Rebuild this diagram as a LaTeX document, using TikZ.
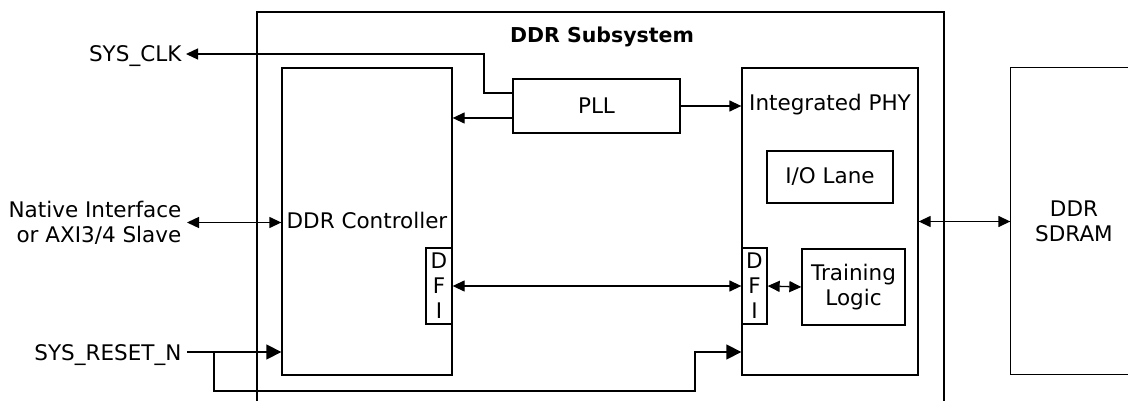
\documentclass[tikz,border=0pt]{standalone}
\usepackage{fontspec}
\setmainfont{DejaVu Sans}
\usetikzlibrary{arrows.meta}
\begin{document}
\begin{tikzpicture}[x=1pt,y=-1pt,
  line width=1.3pt,
  blk/.style={draw, inner sep=0pt, line width=1.3pt},
  txt/.style={font=\fontsize{21.5}{25}\selectfont, inner sep=0pt, align=center},
  lbl/.style={font=\fontsize{21.5}{25}\selectfont, inner sep=0pt},
  arr/.style={-{Triangle[length=12pt,width=11pt]}},
  darr/.style={{Triangle[length=12pt,width=11pt]}-{Triangle[length=12pt,width=11pt]}},
  bigarr/.style={-{Triangle[length=15pt,width=15pt]}},
]
\useasboundingbox (0,0) rectangle (1128,401);

% subsystem container (open at the bottom)
\draw (257,401) -- (257,12) -- (944,12) -- (944,401);
\node[font=\fontsize{20.5}{24}\selectfont\bfseries, anchor=base] (title) at (602,43) {DDR Subsystem};

% blocks
\node[blk, minimum width=170pt, minimum height=307pt] (ctrl) at (367,221.5) {};
\node[lbl, anchor=base] (ctrltxt) at (367,229) {DDR Controller};
\node[blk, txt, minimum width=26pt, minimum height=76pt] (cdfi) at (439,286) {D\\F\\I};

\node[blk, txt, minimum width=167pt, minimum height=54pt] (pll) at (596.5,106) {PLL};

\node[blk, minimum width=176pt, minimum height=307pt] (phy) at (830,221.5) {};
\node[lbl, anchor=base] (phytxt) at (830,111) {Integrated PHY};
\node[blk, txt, minimum width=126pt, minimum height=52pt] (io) at (830,177) {I/O Lane};
\node[blk, txt, minimum width=25pt, minimum height=76pt] (pdfi) at (754.5,286) {D\\F\\I};
\node[blk, txt, minimum width=103pt, minimum height=76pt] (train) at (853.5,287) {Training\\Logic};

% DDR SDRAM (cut at the right edge)
\node[txt, minimum width=126pt, minimum height=306pt] (sdram) at (1074,221) {DDR\\SDRAM};
\coordinate (pgR) at (1128,0);
\draw (pgR |- sdram.north) -- (sdram.north west) -- (sdram.south west) -- (pgR |- sdram.south);

% external labels
\node[lbl, anchor=base east] (sysclk) at (182,62) {SYS\_CLK};
\node[lbl, anchor=east, align=right] (native) at (182,222.5) {Native Interface\\or AXI3/4 Slave};
\node[lbl, anchor=base east] (rst) at (182,360) {SYS\_RESET\_N};

% connectors
\coordinate (pllA) at ([yshift=13pt]pll.west);
\coordinate (pllB) at ([yshift=-12pt]pll.west);
\coordinate (clkturn) at (484,54);
\path (sysclk.base east) ++(4,-8) coordinate (clktip);
\draw[arr] (pllA) -| (clkturn) -- (clktip);

\draw[arr] (pllB) -- (pllB -| ctrl.east);
\draw[arr] (pll.east) -- (pll.east -| phy.west);

\path (native.east) ++(5,0) coordinate (natA);
\draw[darr] (natA) -- (natA -| ctrl.west);

\draw[darr] (cdfi.east) -- (pdfi.west);
\draw[darr] (pdfi.east) -- (train.west);
\draw[darr] (phy.east) -- (phy.east -| sdram.west);

\path (rst.base east) ++(5,-8) coordinate (rstA);
\draw[bigarr] (rstA) -- (rstA -| ctrl.west);
\coordinate (rstB) at (214,352);
\coordinate (rstC) at (695,391);
\draw[bigarr] (rstB) |- (rstC) |- (rstB -| phy.west);
\end{tikzpicture}
\end{document}
